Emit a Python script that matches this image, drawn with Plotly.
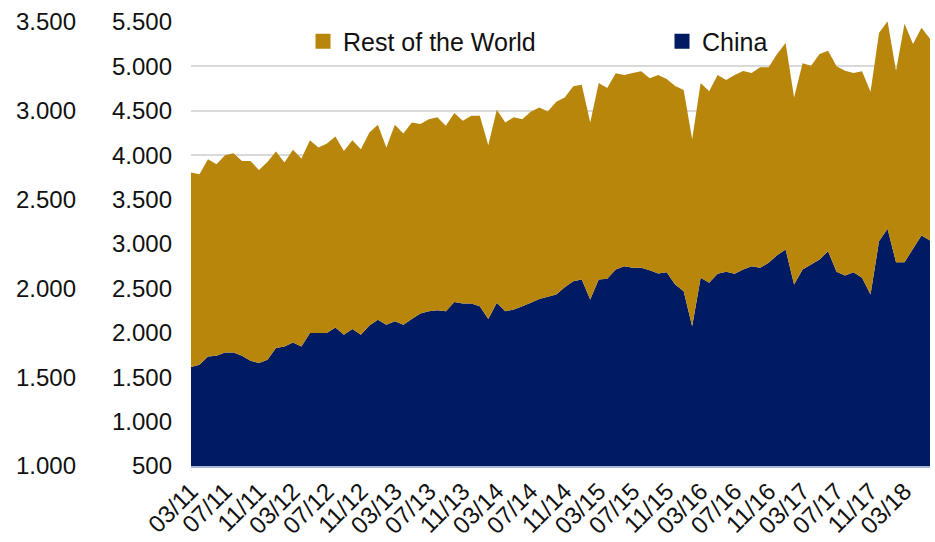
import plotly.graph_objects as go

months = [
    "03/11", "04/11", "05/11", "06/11", "07/11", "08/11", "09/11", "10/11", "11/11", "12/11",
    "01/12", "02/12", "03/12", "04/12", "05/12", "06/12", "07/12", "08/12", "09/12", "10/12", "11/12", "12/12",
    "01/13", "02/13", "03/13", "04/13", "05/13", "06/13", "07/13", "08/13", "09/13", "10/13", "11/13", "12/13",
    "01/14", "02/14", "03/14", "04/14", "05/14", "06/14", "07/14", "08/14", "09/14", "10/14", "11/14", "12/14",
    "01/15", "02/15", "03/15", "04/15", "05/15", "06/15", "07/15", "08/15", "09/15", "10/15", "11/15", "12/15",
    "01/16", "02/16", "03/16", "04/16", "05/16", "06/16", "07/16", "08/16", "09/16", "10/16", "11/16", "12/16",
    "01/17", "02/17", "03/17", "04/17", "05/17", "06/17", "07/17", "08/17", "09/17", "10/17", "11/17", "12/17",
    "01/18", "02/18", "03/18", "04/18", "05/18", "06/18",
]

tick_labels = ["03/11", "07/11", "11/11", "03/12", "07/12", "11/12", "03/13", "07/13", "11/13",
               "03/14", "07/14", "11/14", "03/15", "07/15", "11/15", "03/16", "07/16", "11/16",
               "03/17", "07/17", "11/17", "03/18"]

china = [
    1614, 1640, 1734, 1742, 1779, 1779, 1742, 1685, 1659, 1697,
    1829, 1847, 1892, 1847, 1998, 1998, 1998, 2061, 1979, 2043, 1979, 2081,
    2148, 2092, 2129, 2092, 2156, 2216, 2242, 2253, 2242, 2348, 2329, 2329,
    2299, 2156, 2337, 2242, 2261, 2299, 2337, 2382, 2405, 2431, 2513, 2581,
    2600, 2374, 2600, 2608, 2713, 2750, 2732, 2732, 2705, 2668, 2682, 2543,
    2468, 2073, 2619, 2563, 2664, 2687, 2664, 2713, 2750, 2732, 2788, 2874,
    2939, 2543, 2713, 2769, 2826, 2919, 2687, 2645, 2682, 2619, 2431, 3032,
    3172, 2795, 2795, 2946, 3097, 3040,
]

rest_of_world = [
    2191, 2145, 2221, 2156, 2221, 2243, 2194, 2251, 2175, 2227,
    2213, 2071, 2168, 2116, 2171, 2089, 2134, 2150, 2069, 2126, 2089, 2175,
    2194, 1995, 2213, 2153, 2213, 2134, 2164, 2173, 2089, 2126, 2058, 2115,
    2145, 1957, 2174, 2127, 2165, 2107, 2152, 2156, 2088, 2171, 2138, 2195,
    2194, 1995, 2213, 2148, 2209, 2153, 2194, 2213, 2161, 2235, 2176, 2236,
    2266, 2108, 2194, 2156, 2239, 2160, 2239, 2235, 2176, 2258, 2202, 2266,
    2325, 2108, 2322, 2239, 2314, 2258, 2314, 2307, 2244, 2326, 2284, 2345,
    2337, 2157, 2684, 2307, 2337, 2270,
]

NAVY = "#001B61"
GOLD = "#B8860B"
FONT = "Liberation Sans, Arial, sans-serif"
FS = 24
LFS = 25

fig = go.Figure()
fig.add_trace(go.Scatter(x=months, y=china, name="China", stackgroup="one",
                         mode="none", fillcolor=NAVY, showlegend=False, hoverinfo="x+y+name"))
fig.add_trace(go.Scatter(x=months, y=rest_of_world, name="Rest of the World", stackgroup="one",
                         mode="none", fillcolor=GOLD, showlegend=False, hoverinfo="x+y+name"))

# legend-only markers (small squares as in the reference)
fig.add_trace(go.Scatter(x=[None], y=[None], name="Rest of the World", mode="markers",
                         marker=dict(symbol="square", size=15, color=GOLD), yaxis="y2",
                         legend="legend"))
fig.add_trace(go.Scatter(x=[None], y=[None], name="China", mode="markers",
                         marker=dict(symbol="square", size=15, color=NAVY), yaxis="y2",
                         legend="legend2"))

L = 80
W = 935
R = 5
plot_left = 191
pw = W - L - R
dom0 = (plot_left - L) / pw


def px(xpix):
    return (xpix - L) / pw


leg_common = dict(orientation="h", y=1.008, xanchor="left", yanchor="top",
                  bgcolor="rgba(0,0,0,0)", font=dict(size=LFS), itemwidth=30)

fig.update_layout(
    width=W, height=542,
    margin=dict(l=L, r=R, t=22, b=76, autoexpand=False),
    paper_bgcolor="white", plot_bgcolor="white",
    separators=",.",
    font=dict(family=FONT, size=FS, color="#111111"),
    showlegend=True,
    legend=dict(x=px(303), **leg_common),
    legend2=dict(x=px(662), **leg_common),
    xaxis=dict(type="category", domain=[dom0, 1], range=[0, len(months) - 1],
               tickmode="array", tickvals=tick_labels, tickangle=-45, automargin=False,
               showgrid=False, zeroline=False, showline=True, linecolor="#A9B7D8",
               linewidth=1.5, ticks="", tickfont=dict(size=FS)),
    yaxis=dict(range=[500, 5500], dtick=500, tick0=500, tickformat=",d", automargin=False,
               showgrid=True, gridcolor="#D9D9D9", gridwidth=1.5, zeroline=False,
               showline=False, ticks="", ticklabelstandoff=18, tickfont=dict(size=FS)),
    yaxis2=dict(range=[1000, 3500], dtick=500, tick0=1000, tickformat=",d", automargin=False,
                overlaying="y", anchor="free", position=0, side="left",
                showgrid=False, zeroline=False, showline=False, ticks="",
                ticklabelstandoff=4, tickfont=dict(size=FS)),
)

fig.write_html("out.html")
